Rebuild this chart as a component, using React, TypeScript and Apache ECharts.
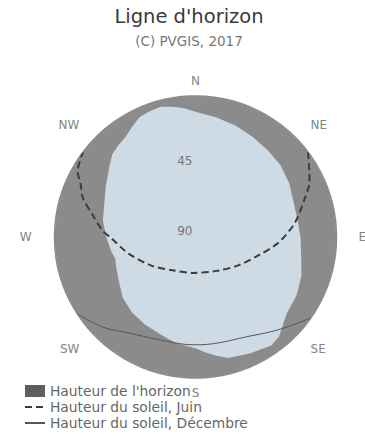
import React, { useEffect, useRef } from 'react';
import * as echarts from 'echarts';

const FONT = '"DejaVu Sans", Verdana, sans-serif';

const compassLabels = ['N', 'NE', 'E', 'SE', 'S', 'SW', 'W', 'NW'];
const radiusTicks = [0, 45, 90];

// Horizon: azimuth (deg from N, clockwise) and horizon height (deg)
const horizonAzimuth = [0, 10, 20, 30, 40, 50, 60, 70, 80, 90, 100, 110, 120, 130, 135, 140, 145, 150, 155, 165, 170, 175, 180, 190, 200, 210, 220, 230, 240, 250, 255, 260, 270, 280, 290, 300, 310, 315, 320, 325, 330, 335, 340, 345, 350, 355, 360];
const horizonHeight = [10, 12.5, 14.5, 16.5, 18, 19, 21, 23.5, 24, 23, 21.5, 18, 15.5, 14, 11, 7, 5.5, 7, 8, 10, 13, 16, 19, 21, 24, 25.5, 27, 29.5, 33.5, 36, 37, 35.5, 33, 30, 28, 24, 18.5, 15, 13.5, 12, 9, 5.5, 4.5, 4, 5.5, 7.5, 10];

// Sun path, June
const juneAzimuth = [53, 64, 71, 82, 94, 106, 123, 148, 184, 213, 237, 256, 269, 274, 282, 289, 295, 299, 307];
const juneHeight = [0, 9, 16.5, 26, 37, 48, 57, 64.5, 67, 64.5, 56.5, 46, 36.5, 30.5, 23, 14, 9, 4, 0];

// Sun path, December
const decAzimuth = [125, 138, 153, 171, 181, 195, 215, 226, 237];
const decHeight = [0, 10.5, 18.5, 21, 21.2, 21, 15.3, 7.4, 0];

const SERIES_NAMES = ["Hauteur de l'horizon", 'Hauteur du soleil, Juin', 'Hauteur du soleil, Décembre'];

export default function App() {
  const ref = useRef<HTMLDivElement>(null);

  useEffect(() => {
    document.body.style.margin = '0';
    if (!ref.current) return;
    const chart = echarts.init(ref.current, undefined, { renderer: 'svg' });

    const labelStyleKey = (name: string) => {
      if (name === 'W') return 'w';
      if (name === 'NW' || name === 'SW') return 'wd';
      if (name === 'E') return 'e';
      if (name === 'NE' || name === 'SE') return 'ed';
      return 'n';
    };

    const hiddenSymbol = { color: 'rgba(0,0,0,0)', borderWidth: 0, opacity: 0 };

    chart.setOption({
      animation: false,
      backgroundColor: '#ffffff',
      title: {
        text: "Ligne d'horizon",
        subtext: '(C) PVGIS, 2017',
        left: 189,
        top: 6,
        textAlign: 'center',
        padding: 0,
        itemGap: 8,
        textStyle: { fontSize: 19.5, fontWeight: 'normal', color: '#3a3a3a', fontFamily: FONT },
        subtextStyle: { fontSize: 13.5, color: '#777777', fontFamily: FONT },
      },
      legend: {
        orient: 'vertical',
        left: 24,
        top: 384,
        padding: 0,
        itemGap: 2,
        itemWidth: 20,
        itemHeight: 12,
        selectedMode: false,
        textStyle: { fontSize: 13.8, color: '#666666', fontFamily: FONT, lineHeight: 14 },
        data: [
          { name: SERIES_NAMES[0], icon: 'rect', itemStyle: { color: '#5e5e5e' } },
          { name: SERIES_NAMES[1], itemStyle: hiddenSymbol },
          { name: SERIES_NAMES[2], itemStyle: hiddenSymbol },
        ],
      },
      polar: {
        center: [195.5, 237],
        radius: 141,
      },
      angleAxis: {
        type: 'value',
        min: 0,
        max: 360,
        interval: 45,
        startAngle: 90,
        clockwise: true,
        axisLine: { show: true, lineStyle: { color: '#8b8b8b', width: 1.5 } },
        axisTick: { show: false },
        splitLine: { show: false },
        splitArea: { show: true, areaStyle: { color: ['#cedae4'] } },
        axisLabel: {
          margin: 9,
          color: '#858585',
          fontSize: 12,
          fontFamily: FONT,
          formatter: (v: number) => {
            const name = compassLabels[Math.round(v / 45) % 8];
            return '{' + labelStyleKey(name) + '|' + name + '}';
          },
          rich: {
            n: { color: '#858585', fontSize: 12, fontFamily: FONT },
            w: { color: '#858585', fontSize: 12, fontFamily: FONT, padding: [0, 14, 0, 0] },
            wd: { color: '#858585', fontSize: 12, fontFamily: FONT, padding: [0, 10, 0, 0] },
            e: { color: '#858585', fontSize: 12, fontFamily: FONT, padding: [0, 0, 0, 13] },
            ed: { color: '#858585', fontSize: 12, fontFamily: FONT, padding: [0, 0, 0, 9] },
          },
        },
      },
      radiusAxis: {
        type: 'value',
        min: radiusTicks[0],
        max: radiusTicks[radiusTicks.length - 1],
        interval: radiusTicks[1] - radiusTicks[0],
        inverse: true,
        z: 10,
        axisLine: { show: false },
        axisTick: { show: false },
        splitLine: { show: false },
        axisLabel: {
          margin: 3,
          verticalAlign: 'bottom',
          color: '#777777',
          fontSize: 12,
          fontFamily: FONT,
          formatter: (v: number) => (v === 0 ? '' : String(v)),
        },
      },
      series: [
        {
          name: SERIES_NAMES[0],
          type: 'line',
          coordinateSystem: 'polar',
          symbol: 'none',
          silent: true,
          data: horizonAzimuth.map((a, i) => [horizonHeight[i], a]),
          itemStyle: { color: '#5e5e5e' },
          lineStyle: { width: 0, color: '#8b8b8b' },
          areaStyle: { color: '#8b8b8b', opacity: 1 },
          z: 2,
        },
        {
          name: SERIES_NAMES[1],
          type: 'line',
          coordinateSystem: 'polar',
          symbol: 'none',
          silent: true,
          smooth: 0.3,
          data: juneAzimuth.map((a, i) => [juneHeight[i], a]),
          itemStyle: { color: '#3c3c3c' },
          lineStyle: { width: 2, color: '#3c3c3c', type: [7, 4] },
          z: 3,
        },
        {
          name: SERIES_NAMES[2],
          type: 'line',
          coordinateSystem: 'polar',
          symbol: 'none',
          silent: true,
          smooth: 0.4,
          data: decAzimuth.map((a, i) => [decHeight[i], a]),
          itemStyle: { color: '#555555' },
          lineStyle: { width: 1, color: '#555555' },
          z: 3,
        },
      ],
    });

    return () => {
      chart.dispose();
    };
  }, []);

  return <div ref={ref} style={{ width: 365, height: 436 }} />;
}
